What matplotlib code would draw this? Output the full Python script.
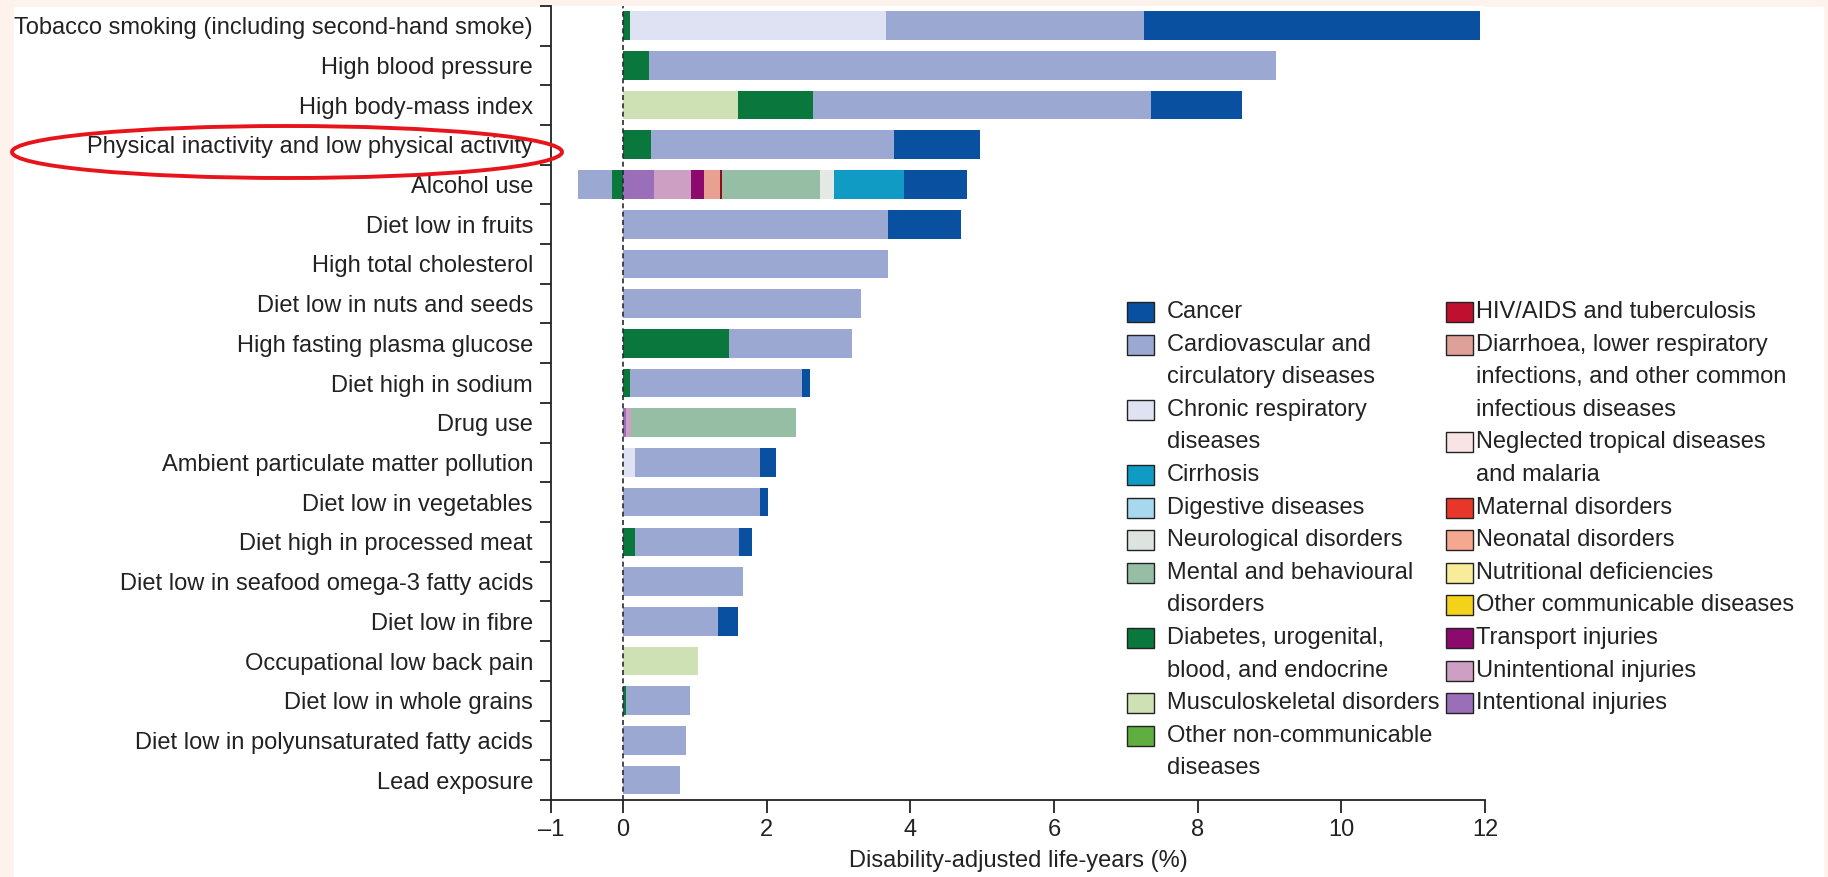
import matplotlib
matplotlib.use("Agg")
import matplotlib.pyplot as plt
import matplotlib.patches as patches
import numpy as np

plt.rcParams["font.family"] = ["Liberation Sans", "DejaVu Sans"]

risks = [
    "Tobacco smoking (including second-hand smoke)",
    "High blood pressure",
    "High body-mass index",
    "Physical inactivity and low physical activity",
    "Alcohol use",
    "Diet low in fruits",
    "High total cholesterol",
    "Diet low in nuts and seeds",
    "High fasting plasma glucose",
    "Diet high in sodium",
    "Drug use",
    "Ambient particulate matter pollution",
    "Diet low in vegetables",
    "Diet high in processed meat",
    "Diet low in seafood omega-3 fatty acids",
    "Diet low in fibre",
    "Occupational low back pain",
    "Diet low in whole grains",
    "Diet low in polyunsaturated fatty acids",
    "Lead exposure",
]

# DALYs (%) attributable to each risk, split by cause group (same order as risks)
musculoskeletal = [0, 0, 1.60, 0, 0, 0, 0, 0, 0, 0, 0, 0, 0, 0, 0, 0, 1.05, 0, 0, 0]
diabetes = [0.10, 0.36, 1.04, 0.39, -0.15, 0, 0, 0, 1.48, 0.10, 0, 0, 0, 0.17, 0, 0, 0, 0.05, 0, 0]
intentional = [0, 0, 0, 0, 0.44, 0, 0, 0, 0, 0, 0.05, 0, 0, 0, 0, 0, 0, 0, 0, 0]
unintentional = [0, 0, 0, 0, 0.51, 0, 0, 0, 0, 0, 0.06, 0, 0, 0, 0, 0, 0, 0, 0, 0]
transport = [0, 0, 0, 0, 0.185, 0, 0, 0, 0, 0, 0, 0, 0, 0, 0, 0, 0, 0, 0, 0]
diarrhoea_lri = [0, 0, 0, 0, 0.215, 0, 0, 0, 0, 0, 0, 0, 0, 0, 0, 0, 0, 0, 0, 0]
hiv_tb = [0, 0, 0, 0, 0.03, 0, 0, 0, 0, 0, 0, 0, 0, 0, 0, 0, 0, 0, 0, 0]
mental = [0, 0, 0, 0, 1.36, 0, 0, 0, 0, 0, 2.30, 0, 0, 0, 0, 0, 0, 0, 0, 0]
neurological = [0, 0, 0, 0, 0.20, 0, 0, 0, 0, 0, 0, 0, 0, 0, 0, 0, 0, 0, 0, 0]
chronic_resp = [3.56, 0, 0, 0, 0, 0, 0, 0, 0, 0, 0, 0.17, 0, 0, 0, 0, 0, 0, 0, 0]
cirrhosis = [0, 0, 0, 0, 0.97, 0, 0, 0, 0, 0, 0, 0, 0, 0, 0, 0, 0, 0, 0, 0]
cardiovascular = [3.60, 8.73, 4.71, 3.38, -0.48, 3.69, 3.69, 3.31, 1.71, 2.39,
                  0, 1.74, 1.91, 1.44, 1.67, 1.32, 0, 0.89, 0.88, 0.79]
cancer = [4.67, 0, 1.27, 1.20, 0.88, 1.02, 0, 0, 0, 0.12,
          0, 0.22, 0.11, 0.19, 0, 0.28, 0, 0, 0, 0]

# legend entries, two columns
legend_left = [
    ("Cancer", "#0a50a0"),
    ("Cardiovascular and\ncirculatory diseases", "#9ba8d2"),
    ("Chronic respiratory\ndiseases", "#dee2f2"),
    ("Cirrhosis", "#0f9bc3"),
    ("Digestive diseases", "#a8d8ee"),
    ("Neurological disorders", "#dde3df"),
    ("Mental and behavioural\ndisorders", "#96bea5"),
    ("Diabetes, urogenital,\nblood, and endocrine", "#0a783c"),
    ("Musculoskeletal disorders", "#cde1b4"),
    ("Other non-communicable\ndiseases", "#5fae3f"),
]
legend_right = [
    ("HIV/AIDS and tuberculosis", "#c0102f"),
    ("Diarrhoea, lower respiratory\ninfections, and other common\ninfectious diseases", "#e0a09a"),
    ("Neglected tropical diseases\nand malaria", "#f8e4e4"),
    ("Maternal disorders", "#e8362a"),
    ("Neonatal disorders", "#f5a88f"),
    ("Nutritional deficiencies", "#f6ec9a"),
    ("Other communicable diseases", "#f4d21a"),
    ("Transport injuries", "#8c0a6e"),
    ("Unintentional injuries", "#cda0c3"),
    ("Intentional injuries", "#9b6eb9"),
]
colors = dict((k.replace("\n", " "), c) for k, c in legend_left + legend_right)

# stacking order from the zero line outwards
stack = [
    (musculoskeletal, colors["Musculoskeletal disorders"]),
    (diabetes, colors["Diabetes, urogenital, blood, and endocrine"]),
    (intentional, colors["Intentional injuries"]),
    (unintentional, colors["Unintentional injuries"]),
    (transport, colors["Transport injuries"]),
    (diarrhoea_lri, "#e8a090"),
    (hiv_tb, "#8a1020"),
    (mental, colors["Mental and behavioural disorders"]),
    (neurological, "#e4e9e6"),
    (chronic_resp, colors["Chronic respiratory diseases"]),
    (cirrhosis, colors["Cirrhosis"]),
    (cardiovascular, colors["Cardiovascular and circulatory diseases"]),
    (cancer, colors["Cancer"]),
]

W, H = 1828, 877
FS = 17
fig = plt.figure(figsize=(W / 100, H / 100), dpi=100, facecolor="#fdf3ec")
fig.patches.append(patches.Rectangle((14 / W, 0), (1823 - 14) / W, (H - 7) / H,
                                     transform=fig.transFigure, color="white", zorder=-1))

ax = fig.add_axes([551 / W, 1 - 800 / H, (1485 - 551) / W, (800 - 5.8) / H])
y = np.arange(len(risks))
pos = np.zeros(len(risks))
neg = np.zeros(len(risks))
for vals, col in stack:
    v = np.array(vals, dtype=float)
    left = np.where(v >= 0, pos, neg)
    ax.barh(y, v, left=left, height=0.72, color=col, linewidth=0)
    pos += np.clip(v, 0, None)
    neg += np.clip(v, None, 0)

ax.axvline(0, color="#2a2a2a", lw=1.2, ls=(0, (3, 2)), zorder=5)

ax.set_xlim(-1, 12)
ax.set_ylim(len(risks) - 0.5, -0.5)
ax.set_xticks([-1, 0, 2, 4, 6, 8, 10, 12])
ax.set_xticklabels(["\u20131", "0", "2", "4", "6", "8", "10", "12"])
ax.set_yticks(y)
ax.set_yticklabels(risks)
ax.set_yticks(np.arange(len(risks) + 1) - 0.5, minor=True)
ax.tick_params(axis="y", which="major", length=0, pad=13, labelsize=FS, colors="#222222")
ax.tick_params(axis="y", which="minor", length=8, width=1.3, color="#222222")
ax.tick_params(axis="x", length=9, width=1.3, pad=5, labelsize=FS, colors="#222222")
ax.set_xlabel("Disability-adjusted life-years (%)", fontsize=FS, color="#222222", labelpad=6)
for s in ["top", "right"]:
    ax.spines[s].set_visible(False)
for s in ["left", "bottom"]:
    ax.spines[s].set_linewidth(1.3)
    ax.spines[s].set_color("#222222")

# legend drawn by hand so wrapped labels keep the box beside their first line
row_h = 32.6
for col_entries, sq_x, tx_x in [(legend_left, 1127, 1167), (legend_right, 1446, 1476)]:
    row = 0
    for label, col in col_entries:
        yc = 312 + row * row_h
        fig.patches.append(patches.Rectangle((sq_x / W, 1 - (yc + 10) / H), 27 / W, 20 / H,
                                             transform=fig.transFigure, facecolor=col,
                                             edgecolor="#222222", linewidth=1.0))
        for k, line in enumerate(label.split("\n")):
            fig.text(tx_x / W, 1 - (yc + k * row_h) / H, line, fontsize=FS,
                     va="center", ha="left", color="#222222")
        row += label.count("\n") + 1

# highlight around the physical activity label
fig.patches.append(patches.Ellipse((287 / W, 1 - 152 / H), 550 / W, 52 / H,
                                   transform=fig.transFigure, fill=False,
                                   edgecolor="#e8141c", linewidth=2.8, zorder=10))

fig.savefig("out.png", dpi=100, facecolor=fig.get_facecolor())
